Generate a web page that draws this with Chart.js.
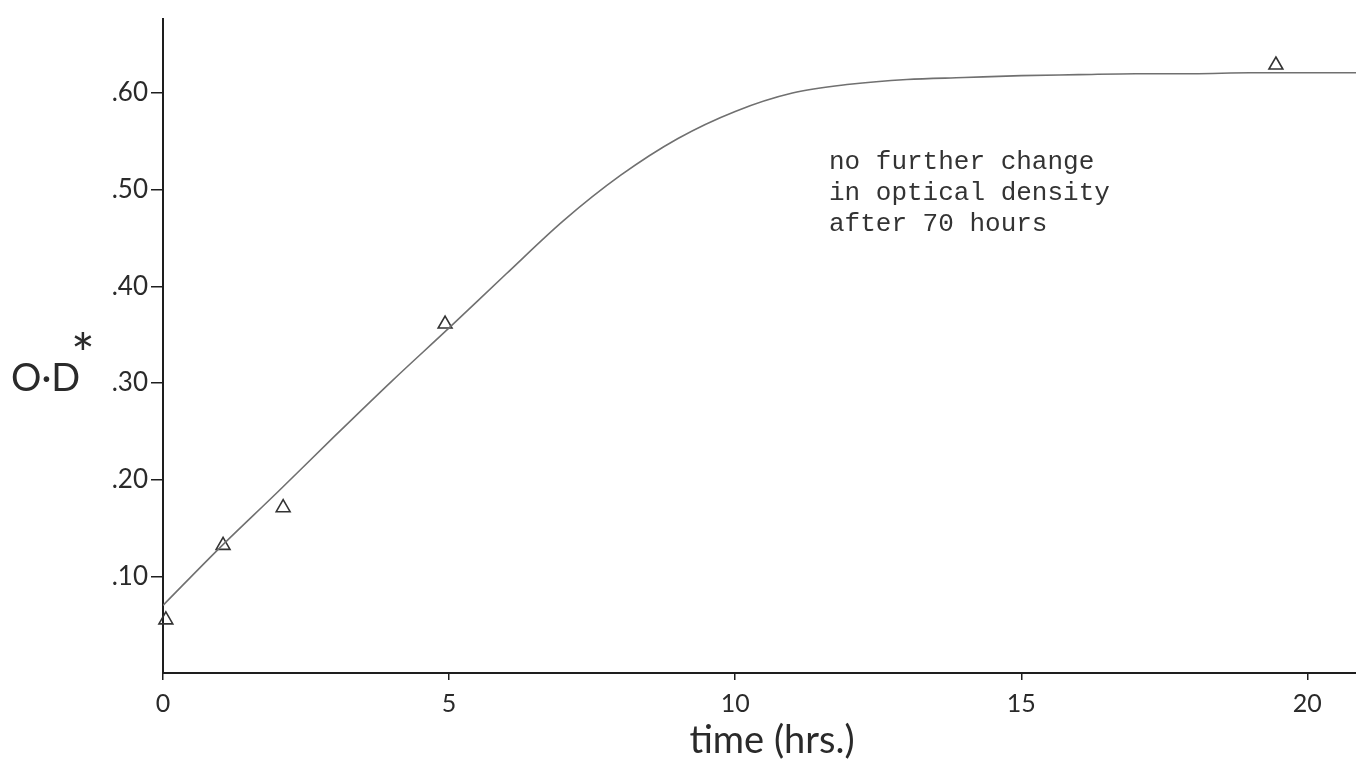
<!DOCTYPE html>
<html>
<head>
<meta charset="utf-8">
<script src="https://cdn.jsdelivr.net/npm/chart.js@4.4.0/dist/chart.umd.min.js"></script>
<style>
html,body{margin:0;padding:0;background:#fff;}
#wrap{position:relative;width:1356px;height:760px;}
</style>
</head>
<body>
<div id="wrap"><canvas id="c" width="1356" height="760"></canvas></div>
<script>
// Hand-drawn growth curve (time in hours, optical density)
const curveHours = [0, 1, 2, 3, 4, 5, 6, 7, 8, 9, 10, 11, 12, 13, 14, 15, 16, 17, 18, 19, 20, 20.85];
const curveOD    = [0.070, 0.130, 0.187, 0.245, 0.302, 0.357, 0.413, 0.468, 0.515, 0.553, 0.581, 0.600, 0.609, 0.614, 0.616, 0.618, 0.619, 0.620, 0.620, 0.621, 0.621, 0.621];
// Measured points (triangles)
const pointHours = [0.05, 1.05, 2.1, 4.93, 19.45];
const pointOD    = [0.055, 0.132, 0.171, 0.361, 0.629];
// Axis ticks
const xTickValues = [0, 5, 10, 15, 20];
const xTickLabels = ['0', '5', '10', '15', '20'];
const yTickValues = [0.1, 0.2, 0.3, 0.4, 0.5, 0.6];
const yTickLabels = ['.10', '.20', '.30', '.40', '.50', '.60'];
const xMax = 20.85, yMax = 0.677;
const xTitle = 'time (hrs.)';
const yTitle = 'O·D';
const noteLines = ['no further change', 'in optical density', 'after 70 hours'];

const hand = "'Lato', 'Open Sans', sans-serif";
const ink = '#2a2a2a';

const textPlugin = {
  id: 'texts',
  afterDraw(chart) {
    const ctx = chart.ctx;
    ctx.save();
    ctx.fillStyle = ink;
    ctx.textBaseline = 'middle';
    ctx.textAlign = 'left';
    ctx.font = "38px " + hand;
    ctx.fillText(yTitle, 11, 379);
    ctx.font = "56px " + hand;
    ctx.fillText('*', 71, 356);
    ctx.textAlign = 'center';
    ctx.font = "38px " + hand;
    ctx.fillText(xTitle, 772, 741);
    ctx.textAlign = 'left';
    ctx.font = "26px 'Liberation Mono', 'DejaVu Sans Mono', monospace";
    ctx.fillStyle = '#333';
    noteLines.forEach((t, i) => ctx.fillText(t, 829, 162 + i * 31));
    ctx.restore();
  }
};

new Chart(document.getElementById('c'), {
  type: 'scatter',
  data: {
    datasets: [
      {
        label: 'curve',
        data: curveHours.map((x, i) => ({x, y: curveOD[i]})),
        showLine: true,
        borderColor: '#707070',
        borderWidth: 1.6,
        pointRadius: 0,
        cubicInterpolationMode: 'monotone',
        fill: false
      },
      {
        label: 'measured',
        data: pointHours.map((x, i) => ({x, y: pointOD[i]})),
        showLine: false,
        clip: false,
        pointStyle: 'triangle',
        pointRadius: 8,
        borderColor: '#333',
        backgroundColor: 'rgba(255,255,255,0)',
        borderWidth: 1.6
      }
    ]
  },
  options: {
    responsive: false,
    animation: false,
    layout: {autoPadding: false, padding: {top: 15, left: 0, right: 0, bottom: 0}},
    plugins: {legend: {display: false}, tooltip: {enabled: false}},
    scales: {
      x: {
        type: 'linear', min: 0, max: xMax,
        afterFit(s) { s.height = 87; },
        afterBuildTicks(s) { s.ticks = xTickValues.map(v => ({value: v})); },
        border: {display: true, color: '#1e1e1e', width: 2},
        grid: {display: true, drawOnChartArea: false, drawTicks: true, tickLength: 7, color: '#1e1e1e', lineWidth: 1.5},
        ticks: {
          padding: 9, color: ink, font: {family: hand, size: 25},
          maxRotation: 0, autoSkip: false,
          callback: (v) => { const i = xTickValues.indexOf(v); return i >= 0 ? xTickLabels[i] : ''; }
        },
        title: {display: false, text: xTitle}
      },
      y: {
        type: 'linear', min: 0, max: yMax,
        afterFit(s) { s.width = 163; },
        afterBuildTicks(s) { s.ticks = yTickValues.map(v => ({value: v})); },
        border: {display: true, color: '#1e1e1e', width: 2},
        grid: {display: true, drawOnChartArea: false, drawTicks: true, tickLength: 12, color: '#1e1e1e', lineWidth: 1.5},
        ticks: {
          padding: 3, color: ink, font: {family: hand, size: 26},
          autoSkip: false,
          callback: (v) => { const i = yTickValues.findIndex(t => Math.abs(t - v) < 1e-9); return i >= 0 ? yTickLabels[i] : ''; }
        }
      }
    }
  },
  plugins: [textPlugin]
});
</script>
</body>
</html>
